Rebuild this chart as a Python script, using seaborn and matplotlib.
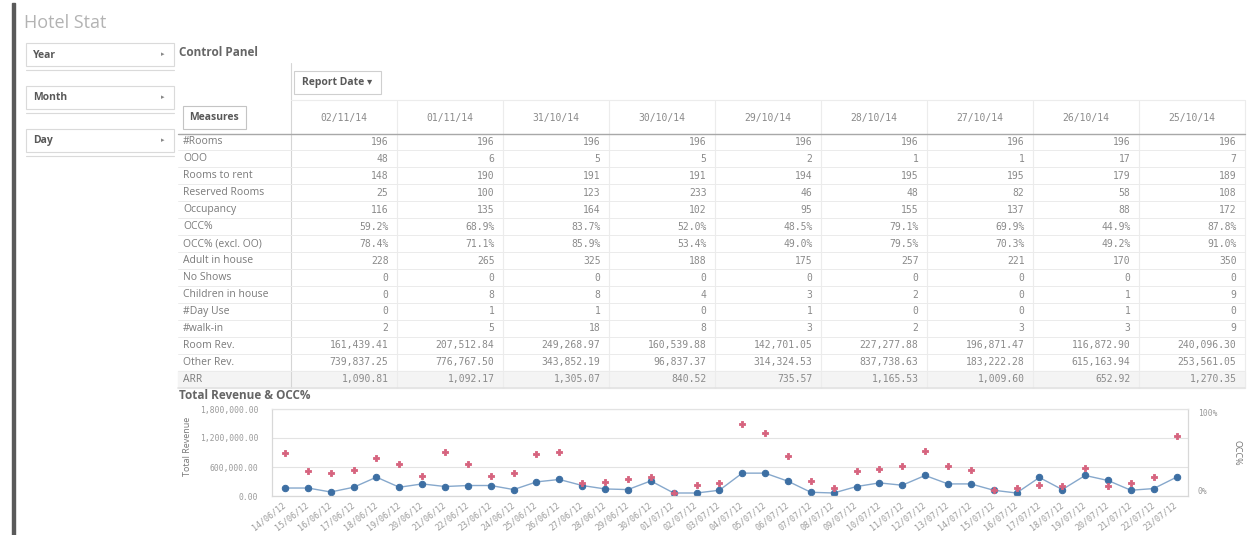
import numpy as np
import pandas as pd
import matplotlib.pyplot as plt
import seaborn as sns
from matplotlib.patches import Rectangle

W, H = 1254, 535

# ---- control panel table ----
report_dates = ["02/11/14", "01/11/14", "31/10/14", "30/10/14", "29/10/14",
                "28/10/14", "27/10/14", "26/10/14", "25/10/14"]
measures = ["#Rooms", "OOO", "Rooms to rent", "Reserved Rooms", "Occupancy", "OCC%",
            "OCC% (excl. OO)", "Adult in house", "No Shows", "Children in house",
            "#Day Use", "#walk-in", "Room Rev.", "Other Rev.", "ARR"]
n_rooms = [196, 196, 196, 196, 196, 196, 196, 196, 196]
ooo = [48, 6, 5, 5, 2, 1, 1, 17, 7]
rooms_to_rent = [148, 190, 191, 191, 194, 195, 195, 179, 189]
reserved_rooms = [25, 100, 123, 233, 46, 48, 82, 58, 108]
occupancy = [116, 135, 164, 102, 95, 155, 137, 88, 172]
occ = [59.2, 68.9, 83.7, 52.0, 48.5, 79.1, 69.9, 44.9, 87.8]
occ_excl = [78.4, 71.1, 85.9, 53.4, 49.0, 79.5, 70.3, 49.2, 91.0]
adults = [228, 265, 325, 188, 175, 257, 221, 170, 350]
no_shows = [0, 0, 0, 0, 0, 0, 0, 0, 0]
children = [0, 8, 8, 4, 3, 2, 0, 1, 9]
day_use = [0, 1, 1, 0, 1, 0, 0, 1, 0]
walk_in = [2, 5, 18, 8, 3, 2, 3, 3, 9]
room_rev = [161439.41, 207512.84, 249268.97, 160539.88, 142701.05,
            227277.88, 196871.47, 116872.90, 240096.30]
other_rev = [739837.25, 776767.50, 343852.19, 96837.37, 314324.53,
             837738.63, 183222.28, 615163.94, 253561.05]
arr = [1090.81, 1092.17, 1305.07, 840.52, 735.57, 1165.53, 1009.60, 652.92, 1270.35]

# ---- chart ----
chart_dates = ["14/06/12", "15/06/12", "16/06/12", "17/06/12", "18/06/12", "19/06/12",
               "20/06/12", "21/06/12", "22/06/12", "23/06/12", "24/06/12", "25/06/12",
               "26/06/12", "27/06/12", "28/06/12", "29/06/12", "30/06/12", "01/07/12",
               "02/07/12", "03/07/12", "04/07/12", "05/07/12", "06/07/12", "07/07/12",
               "08/07/12", "09/07/12", "10/07/12", "11/07/12", "12/07/12", "13/07/12",
               "14/07/12", "15/07/12", "16/07/12", "17/07/12", "18/07/12", "19/07/12",
               "20/07/12", "21/07/12", "22/07/12", "23/07/12"]
total_revenue = [165000, 165000, 83000, 181000, 390000, 181000, 250000, 196000,
                 217000, 217000, 133000, 292000, 342000, 217000, 146000, 133000,
                 312000, 62000, 62000, 119000, 473000, 473000, 306000, 77000,
                 62000, 196000, 271000, 223000, 425000, 250000, 250000, 119000,
                 62000, 383000, 133000, 425000, 321000, 119000, 154000, 390000]
occ_pct = [49, 29, 27, 30, 44, 37, 23, 51, 37, 23, 27, 48, 51, 15, 16, 19, 22, 4,
           13, 15, 83, 72, 46, 17, 9, 29, 31, 35, 52, 34, 30, 7, 9, 13, 11, 32,
           11, 15, 22, 69]

sns.set_theme(style="white")
plt.rcParams["font.family"] = ["Open Sans", "DejaVu Sans"]
MONO = "DejaVu Sans Mono"

fig = plt.figure(figsize=(W / 100, H / 100), dpi=100)
bg = fig.add_axes([0, 0, 1, 1], zorder=0)
bg.set_xlim(0, W)
bg.set_ylim(H, 0)
bg.axis("off")

# left bar + title
bg.add_patch(Rectangle((11.5, 3), 3.5, H, color="#5a5a5a"))
bg.text(24, 23, "Hotel Stat", fontsize=13, color="#b3b3b3", va="center")

# filter boxes
for name, top in [("Year", 43), ("Month", 86), ("Day", 129)]:
    bg.add_patch(Rectangle((25.5, top), 148.5, 23, fc="white", ec="#dadada", lw=0.8))
    bg.plot([25.5, 174], [top + 27, top + 27], color="#dadada", lw=0.8)
    bg.text(33, top + 12, name, fontsize=7.5, fontweight="bold", color="#595959", va="center")
    bg.text(163, top + 11, "\u25b8", fontsize=5, color="#888888", va="center", ha="center",
            family="DejaVu Sans")

bg.text(179, 52, "Control Panel", fontsize=8.5, fontweight="bold", color="#666666", va="center")

# table geometry
col_left = 290.5
col_w = 106
n_cols = len(report_dates)
table_right = col_left + n_cols * col_w
row_top = 133.5
row_h = 16.95

# header
bg.plot([col_left, col_left], [63, row_top + len(measures) * row_h], color="#d5d5d5", lw=0.8)
bg.plot([col_left, table_right], [100, 100], color="#ececec", lw=0.8)
bg.add_patch(Rectangle((294, 71), 87, 23, fc="white", ec="#cfcfcf", lw=0.8))
bg.text(337.5, 82.5, "Report Date \u25be", fontsize=7.5, fontweight="bold", color="#595959",
        ha="center", va="center", family=["Open Sans", "DejaVu Sans"])
bg.add_patch(Rectangle((183, 106), 63, 23, fc="white", ec="#c4c4c4", lw=0.8))
bg.text(214.5, 117.5, "Measures", fontsize=7.5, fontweight="bold", color="#595959",
        ha="center", va="center")

for j in range(1, n_cols + 1):
    x = col_left + j * col_w
    bg.plot([x, x], [100, row_top + len(measures) * row_h], color="#ececec", lw=0.8)
for j, d in enumerate(report_dates):
    bg.text(col_left + (j + 0.5) * col_w, 117.5, d, fontsize=7, color="#8a8a8a",
            ha="center", va="center", family=MONO)

# ARR row shading (scroll edge)
bg.add_patch(Rectangle((178, row_top + 14 * row_h), table_right - 178, row_h,
                       color="#f4f4f4", zorder=0))
bg.plot([178, table_right], [row_top + 15 * row_h] * 2, color="#e2e2e2", lw=1.2)
bg.plot([178, table_right], [row_top, row_top], color="#a8a8a8", lw=1)

table_rows = [n_rooms, ooo, rooms_to_rent, reserved_rooms, occupancy, occ, occ_excl,
              adults, no_shows, children, day_use, walk_in, room_rev, other_rev, arr]
for i, (label, vals) in enumerate(zip(measures, table_rows)):
    yc = row_top + (i + 0.5) * row_h
    if i < len(measures) - 1:
        bg.plot([178, table_right], [row_top + (i + 1) * row_h] * 2, color="#ebebeb", lw=0.7)
    bg.text(183, yc, label, fontsize=7.5, color="#7a7a7a", va="center")
    for j, v in enumerate(vals):
        if label.startswith("OCC%"):
            s = f"{v:.1f}%"
        elif isinstance(v, float):
            s = f"{v:,.2f}"
        else:
            s = str(v)
        bg.text(col_left + (j + 1) * col_w - 8, yc, s, fontsize=7, color="#8a8a8a",
                ha="right", va="center", family=MONO)

bg.text(179, 395.5, "Total Revenue & OCC%", fontsize=8.5, fontweight="bold",
        color="#666666", va="center")
bg.text(188, 446, "Total Revenue", fontsize=6.5, color="#777777", rotation=90,
        ha="center", va="center")
bg.text(1237, 453, "OCC%", fontsize=6.5, color="#777777", rotation=270,
        ha="center", va="center")

# chart
df = pd.DataFrame({"pos": np.arange(len(chart_dates)), "revenue": total_revenue,
                   "occ": occ_pct})
ax = fig.add_axes([272 / W, 1 - 496 / H, (1188 - 272) / W, 87 / H], zorder=2)
sns.lineplot(data=df, x="pos", y="revenue", ax=ax, color="#86a8cc", lw=1.0,
             marker="o", markersize=4.6, markerfacecolor="#3d6fa3",
             markeredgecolor="#3d6fa3")
ax2 = ax.twinx()
sns.scatterplot(data=df, x="pos", y="occ", ax=ax2, marker="P", s=24,
                color="#d6637e", edgecolor="#d6637e", linewidth=0.6)

ax.set_xlim(-0.57, len(chart_dates) - 1 + 0.5)
ax.set_ylim(0, 1.8e6)
ax2.set_ylim(0, 100)
ax.set_yticks([0, 6e5, 1.2e6, 1.8e6])
ax.set_yticklabels([f"{v:,.2f}" for v in [0, 6e5, 1.2e6, 1.8e6]], family=MONO)
ax.set_xticks(df["pos"])
ax.set_xticklabels(chart_dates, rotation=38, ha="right", va="center",
                   rotation_mode="anchor", family=MONO)
ax.yaxis.grid(True, color="#e3e3e3", lw=0.8)
ax.tick_params(axis="y", length=0, labelsize=5.8, labelcolor="#9a9a9a", pad=10)
ax.tick_params(axis="x", length=0, labelsize=6, labelcolor="#9a9a9a", pad=6)
ax.set_xlabel("")
ax.set_ylabel("")

ax2.set_yticks([0, 100])
ax2.set_yticklabels(["0%", "100%"], family=MONO)
ax2.tick_params(axis="y", length=0, labelsize=5.8, labelcolor="#9a9a9a", pad=7)
for t, va in zip(ax2.yaxis.get_major_ticks(), ["bottom", "top"]):
    t.label2.set_verticalalignment(va)
ax2.set_ylabel("")
ax2.set_xlabel("")
ax2.grid(False)

for a in (ax, ax2):
    for side in ("left", "right", "bottom", "top"):
        a.spines[side].set_color("#d8d8d8")
        a.spines[side].set_linewidth(0.8)
    a.spines["top"].set_color("#e3e3e3")
ax.spines["bottom"].set_color("#c8c8c8")

fig.savefig("out.png", dpi=100)
